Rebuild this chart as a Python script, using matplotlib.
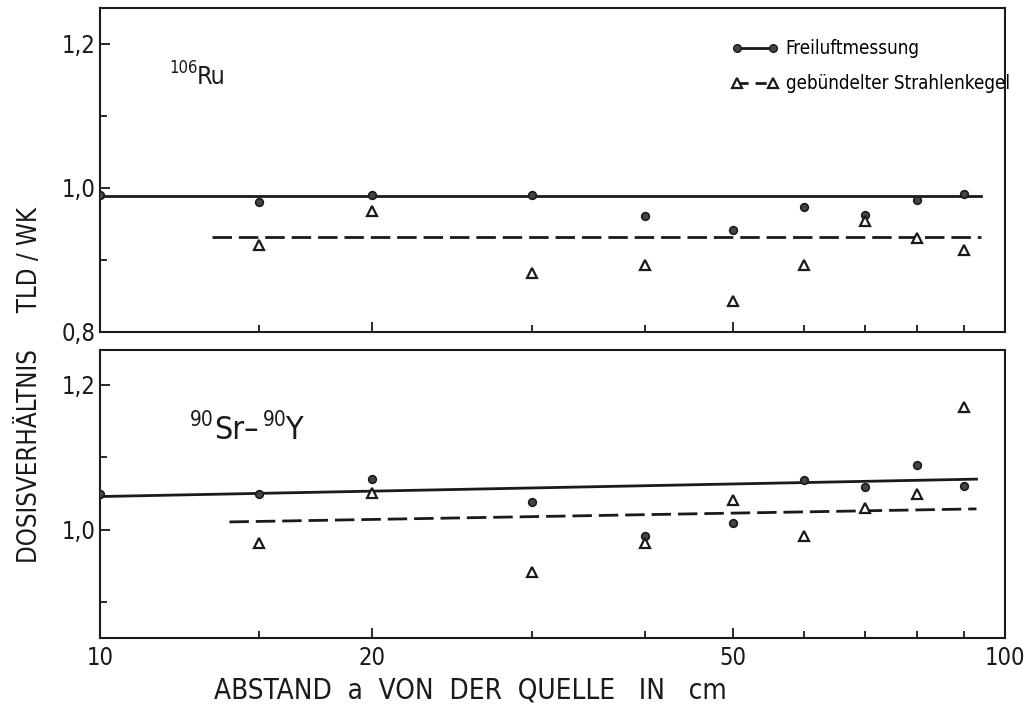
import numpy as np
import matplotlib.pyplot as plt
from matplotlib import font_manager
from matplotlib.ticker import FixedLocator, FuncFormatter, NullFormatter

# Abstand a in cm
abstand_kreis = [10, 15, 20, 30, 40, 50, 60, 70, 80, 90]
abstand_dreieck = [15, 20, 30, 40, 50, 60, 70, 80, 90]

# 106Ru (oben)
ru_frei = [0.99, 0.98, 0.99, 0.99, 0.961, 0.942, 0.973, 0.962, 0.983, 0.992]
ru_kegel = [0.921, 0.968, 0.882, 0.893, 0.843, 0.893, 0.954, 0.931, 0.914]
ru_fit_x_frei = [10, 94]
ru_fit_frei = [0.989, 0.989]
ru_fit_x_kegel = [13.3, 94]
ru_fit_kegel = [0.932, 0.932]

# 90Sr-90Y (unten)
sr_frei = [1.05, 1.05, 1.07, 1.039, 0.991, 1.010, 1.069, 1.059, 1.089, 1.060]
sr_kegel = [0.982, 1.051, 0.942, 0.982, 1.041, 0.991, 1.030, 1.050, 1.169]
sr_fit_x_frei = [10, 93]
sr_fit_frei = [1.046, 1.070]
sr_fit_x_kegel = [13.9, 93]
sr_fit_kegel = [1.011, 1.029]

farbe = '#1a1a1a'

# schmale Schrift suchen, sonst Roboto etwas kleiner
schmal = [f for f in font_manager.fontManager.ttflist
          if f.stretch in ('condensed', 'semi-condensed', 'extra-condensed')
          and f.style == 'normal' and f.weight in (400, 'normal')]
if schmal:
    schrift = schmal[0].name
    plt.rcParams['font.stretch'] = schmal[0].stretch
    gross, leg = 1.0, 1.0
else:
    schrift = 'Roboto'
    gross, leg = 0.85, 0.85
plt.rcParams['font.family'] = [schrift, 'DejaVu Sans']

fig = plt.figure(figsize=(10.25, 7.13), dpi=100)
W, H = 1025.0, 713.0
links, rechts = 100, 1005
ax1 = fig.add_axes([links / W, 1 - 332 / H, (rechts - links) / W, 324 / H])
ax2 = fig.add_axes([links / W, 1 - 638 / H, (rechts - links) / W, 288 / H])

komma = FuncFormatter(lambda v, p: ('%.1f' % v).replace('.', ','))


def zeichne(ax, frei, kegel, fxf, ff, fxk, fk):
    ax.plot(fxf, ff, '-', color=farbe, lw=2.0, zorder=2)
    ax.plot(fxk, fk, '--', color=farbe, lw=2.0, dashes=(7, 2.5), zorder=2)
    ax.plot(abstand_kreis, frei, 'o', ms=5.5, mfc='#444444', mec=farbe,
            mew=1.2, ls='none', zorder=3)
    ax.plot(abstand_dreieck, kegel, '^', ms=6.5, mfc='white', mec=farbe,
            mew=1.6, ls='none', zorder=3)
    ax.set_xscale('log')
    ax.set_xlim(10, 100)
    ax.xaxis.set_major_locator(FixedLocator([10, 20, 50, 100]))
    ax.xaxis.set_minor_locator(FixedLocator([15, 30, 40, 60, 70, 80, 90]))
    ax.xaxis.set_minor_formatter(NullFormatter())
    ax.yaxis.set_major_formatter(komma)
    ax.tick_params(which='both', direction='in', top=False, right=False,
                   labelsize=17 * gross, width=1.3, color=farbe,
                   labelcolor=farbe)
    ax.tick_params(which='major', length=7)
    ax.tick_params(which='minor', length=5)
    for s in ax.spines.values():
        s.set_linewidth(1.5)
        s.set_color(farbe)


zeichne(ax1, ru_frei, ru_kegel, ru_fit_x_frei, ru_fit_frei,
        ru_fit_x_kegel, ru_fit_kegel)
zeichne(ax2, sr_frei, sr_kegel, sr_fit_x_frei, sr_fit_frei,
        sr_fit_x_kegel, sr_fit_kegel)

ax1.set_ylim(0.8, 1.25)
ax1.yaxis.set_major_locator(FixedLocator([0.8, 1.0, 1.2]))
ax1.yaxis.set_minor_locator(FixedLocator([0.9, 1.1]))
ax1.tick_params(axis='x', labelbottom=False)

ax2.set_ylim(0.851, 1.248)
ax2.yaxis.set_major_locator(FixedLocator([1.0, 1.2]))
ax2.yaxis.set_minor_locator(FixedLocator([0.9, 1.1]))
ax2.xaxis.set_major_formatter(FuncFormatter(lambda v, p: '%d' % v))
ax2.tick_params(axis='x', pad=6)

# Nuklid-Beschriftungen, Hochzahlen als eigene Texte
ax1.text(0.077, 0.80, '106', transform=ax1.transAxes,
         fontsize=12 * gross, color=farbe, va='baseline')
ax1.text(0.107, 0.765, 'Ru', transform=ax1.transAxes,
         fontsize=18 * gross, color=farbe, va='baseline')
ax2.text(0.099, 0.735, '90', transform=ax2.transAxes,
         fontsize=15 * gross, color=farbe, va='baseline')
ax2.text(0.126, 0.69, 'Sr–', transform=ax2.transAxes,
         fontsize=23 * gross, color=farbe, va='baseline')
ax2.text(0.180, 0.735, '90', transform=ax2.transAxes,
         fontsize=15 * gross, color=farbe, va='baseline')
ax2.text(0.204, 0.69, 'Y', transform=ax2.transAxes,
         fontsize=23 * gross, color=farbe, va='baseline')

h1, = ax1.plot([], [], 'o-', ms=5.5, mfc='#444444', mec=farbe, color=farbe,
               lw=2.0)
h2, = ax1.plot([], [], '^--', ms=6.5, mfc='white', mec=farbe, mew=1.6,
               color=farbe, lw=2.0, dashes=(4, 2.5))
ax1.legend([h1, h2], ['Freiluftmessung', 'gebündelter Strahlenkegel'],
           loc='upper left', bbox_to_anchor=(722 / W, 1 - 30 / H),
           bbox_transform=fig.transFigure, frameon=False,
           fontsize=13.5 * leg, numpoints=2, handlelength=2.5,
           handletextpad=0.4, labelspacing=0.85, borderpad=0)

fig.text(30 / W, 1 - 385 / H, 'DOSISVERHÄLTNIS     TLD / WK', rotation=90,
         ha='center', va='center', fontsize=18.5 * gross, color=farbe)
fig.text(470 / W, 1 - 690 / H, 'ABSTAND  a  VON  DER  QUELLE   IN   cm',
         ha='center', va='center', fontsize=20 * gross, color=farbe)

fig.savefig('out.png', dpi=100)
